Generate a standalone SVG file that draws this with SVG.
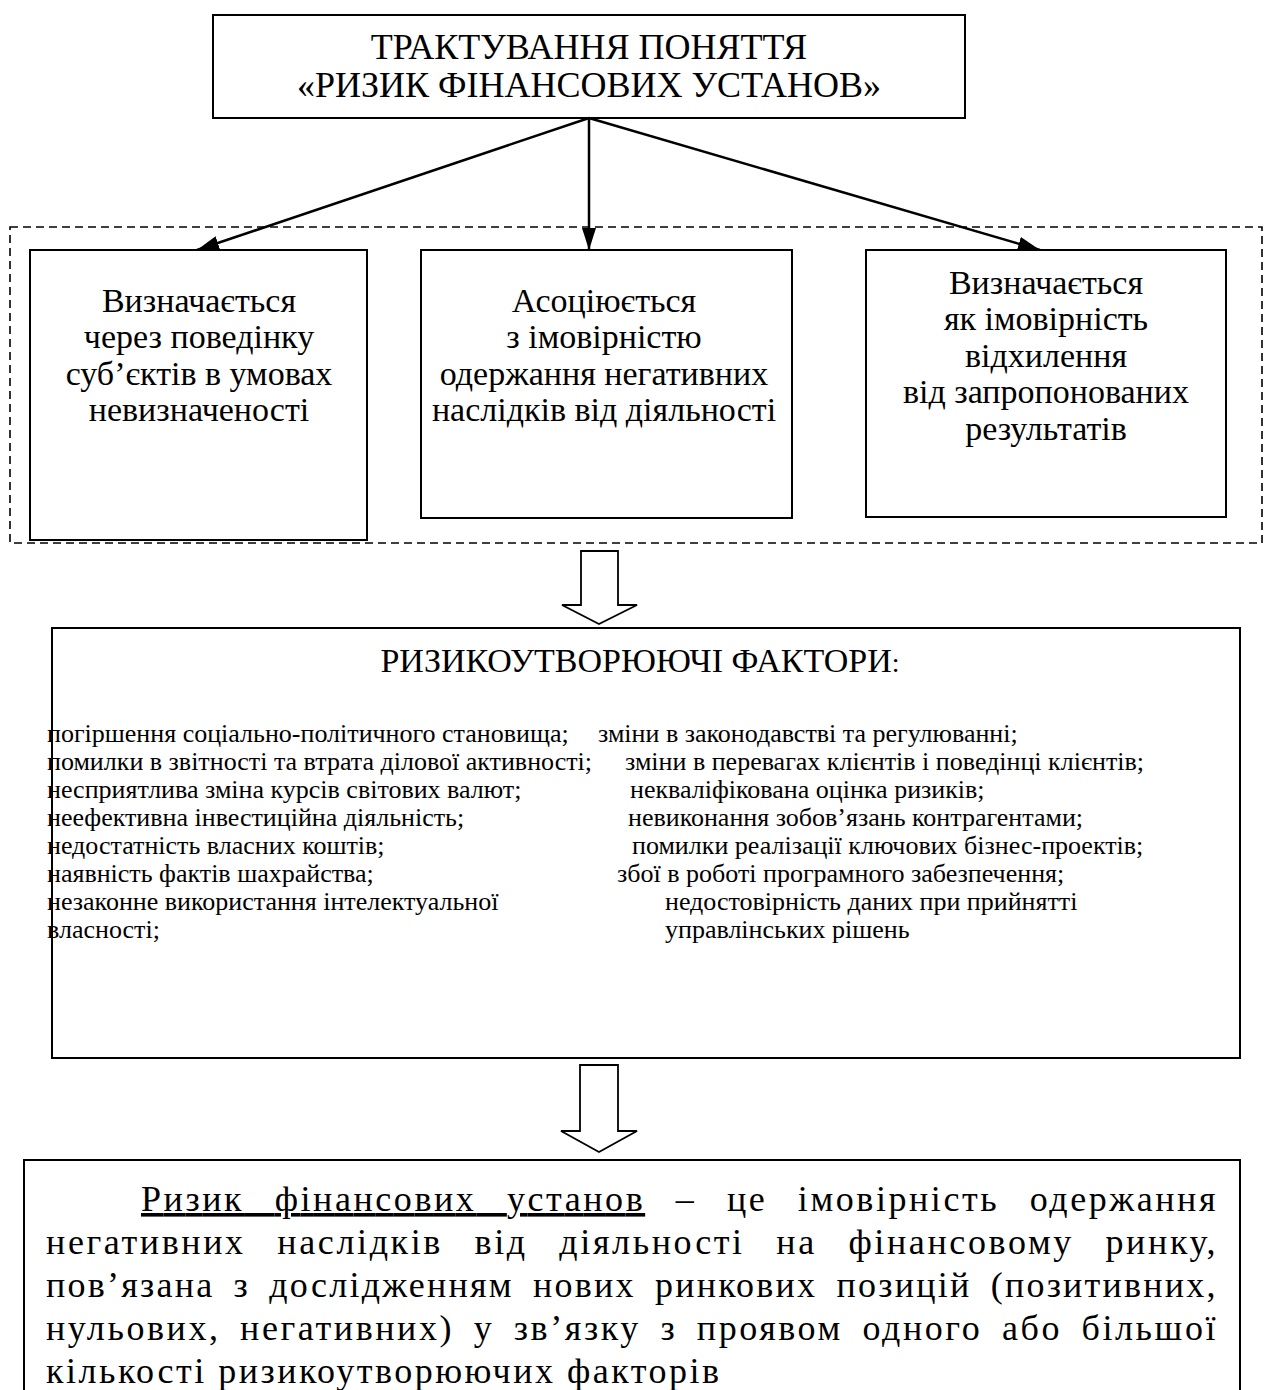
<svg xmlns="http://www.w3.org/2000/svg" width="1270" height="1390" viewBox="0 0 1270 1390">
<style>
  .t { font-family: "Liberation Serif", "Times New Roman", serif; fill: #000; }
  .box { fill: #fff; stroke: #000; stroke-width: 2; }
  .dash { fill: none; stroke: #000; stroke-width: 1.6; stroke-dasharray: 8 5; }
  .conn { stroke: #000; stroke-width: 2.5; fill: none; }
  .hollow { fill: #fff; stroke: #000; stroke-width: 1.8; stroke-linejoin: miter; }
  .title { font-size: 36px; text-anchor: middle; }
  .sub { font-size: 34px; text-anchor: middle; }
  .fac { font-size: 26px; }
  .def { font-size: 36px; letter-spacing: 2.5px; }
</style>
<defs>
  <marker id="ah" viewBox="0 0 22 14" refX="22" refY="7" markerWidth="22" markerHeight="14" markerUnits="userSpaceOnUse" orient="auto">
    <path d="M0,0 L22,7 L0,14 Z" fill="#000"/>
  </marker>
</defs>

<g id="group-dashed">
  <rect class="dash" x="10" y="227" width="1252" height="316"/>
</g>

<g id="node-top">
  <rect class="box" x="213" y="15" width="752" height="103"/>
  <text class="t title" x="589" y="59">ТРАКТУВАННЯ ПОНЯТТЯ</text>
  <text class="t title" x="589" y="97">«РИЗИК ФІНАНСОВИХ УСТАНОВ»</text>
</g>

<g id="connectors">
  <line class="conn" x1="589" y1="118" x2="197" y2="250" marker-end="url(#ah)"/>
  <line class="conn" x1="589" y1="118" x2="589" y2="250" marker-end="url(#ah)"/>
  <line class="conn" x1="589" y1="118" x2="1040" y2="250" marker-end="url(#ah)"/>
  <path class="hollow" d="M581,551 L618,551 L618,605 L637,605 L599,624 L562,605 L581,605 Z"/>
  <path class="hollow" d="M580,1065 L618,1065 L618,1131 L637,1131 L599,1152 L561,1131 L580,1131 Z"/>
</g>

<g id="node-left">
  <rect class="box" x="30" y="250" width="337" height="290"/>
  <text class="t sub" x="199" y="312">Визначається</text>
  <text class="t sub" x="199" y="348">через поведінку</text>
  <text class="t sub" x="199" y="385">суб’єктів в умовах</text>
  <text class="t sub" x="199" y="421">невизначеності</text>
</g>

<g id="node-middle">
  <rect class="box" x="421" y="250" width="371" height="268"/>
  <text class="t sub" x="604" y="312">Асоціюється</text>
  <text class="t sub" x="604" y="348">з імовірністю</text>
  <text class="t sub" x="604" y="385">одержання негативних</text>
  <text class="t sub" x="604" y="421">наслідків від діяльності</text>
</g>

<g id="node-right">
  <rect class="box" x="866" y="250" width="360" height="267"/>
  <text class="t sub" x="1046" y="294">Визначається</text>
  <text class="t sub" x="1046" y="330">як імовірність</text>
  <text class="t sub" x="1046" y="367">відхилення</text>
  <text class="t sub" x="1046" y="403">від запропонованих</text>
  <text class="t sub" x="1046" y="440">результатів</text>
</g>

<g id="node-factors">
  <rect class="box" x="52" y="628" width="1188" height="430"/>
  <text class="t" x="640" y="672" font-size="34" text-anchor="middle">РИЗИКОУТВОРЮЮЧІ ФАКТОРИ<tspan font-size="28">:</tspan></text>
  <text class="t fac" x="47" y="742">погіршення соціально-політичного становища;</text>
  <text class="t fac" x="47" y="770">помилки в звітності та втрата ділової активності;</text>
  <text class="t fac" x="47" y="798">несприятлива зміна курсів світових валют;</text>
  <text class="t fac" x="47" y="826">неефективна інвестиційна діяльність;</text>
  <text class="t fac" x="47" y="854">недостатність власних коштів;</text>
  <text class="t fac" x="47" y="882">наявність фактів шахрайства;</text>
  <text class="t fac" x="47" y="910">незаконне використання інтелектуальної</text>
  <text class="t fac" x="47" y="938">власності;</text>
  <text class="t fac" x="598" y="742">зміни в законодавстві та регулюванні;</text>
  <text class="t fac" x="625" y="770">зміни в перевагах клієнтів і поведінці клієнтів;</text>
  <text class="t fac" x="630" y="798">некваліфікована оцінка ризиків;</text>
  <text class="t fac" x="628" y="826">невиконання зобов’язань контрагентами;</text>
  <text class="t fac" x="632" y="854">помилки реалізації ключових бізнес-проектів;</text>
  <text class="t fac" x="617" y="882">збої в роботі програмного забезпечення;</text>
  <text class="t fac" x="665" y="910">недостовірність даних при прийнятті</text>
  <text class="t fac" x="665" y="938">управлінських рішень</text>
</g>

<g id="node-definition">
  <path class="box" d="M24,1400 L24,1160 L1240,1160 L1240,1400"/>
  <text class="t def" x="141" y="1211" word-spacing="19" textLength="1077" lengthAdjust="spacing"><tspan text-decoration="underline">Ризик фінансових установ</tspan> – це імовірність одержання</text>
  <text class="t def" x="46" y="1254" word-spacing="20" textLength="1172" lengthAdjust="spacing">негативних наслідків від діяльності на фінансовому ринку,</text>
  <text class="t def" x="46" y="1297" word-spacing="8" textLength="1172" lengthAdjust="spacing">пов’язана з дослідженням нових ринкових позицій (позитивних,</text>
  <text class="t def" x="46" y="1340" word-spacing="8" textLength="1172" lengthAdjust="spacing">нульових, негативних) у зв’язку з проявом одного або більшої</text>
  <text class="t def" x="46" y="1383">кількості ризикоутворюючих факторів</text>
</g>
</svg>
